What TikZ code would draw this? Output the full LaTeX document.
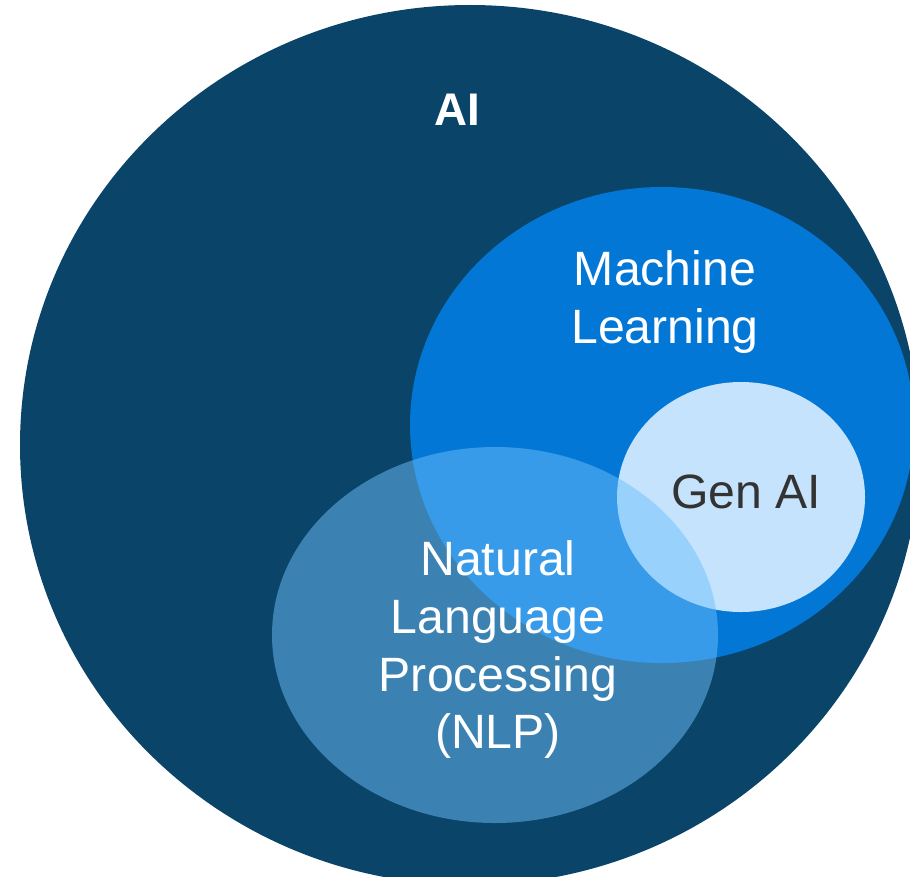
\documentclass[tikz,border=0pt]{standalone}
\usepackage{fontspec}
\setmainfont{Liberation Sans}
\definecolor{ainavy}{RGB}{10,68,105}
\definecolor{mlblue}{RGB}{2,119,214}
\definecolor{genpale}{RGB}{197,227,252}
\definecolor{nlpsky}{RGB}{108,192,253}
\definecolor{gentext}{RGB}{51,51,51}
\tikzset{lbl/.style={inner sep=0pt,align=center,font=\fontsize{13.7}{16.4}\selectfont}}

\begin{document}
\begin{tikzpicture}[x=.01cm,y=-.01cm] %nested sets, 1 unit = 1px
         \useasboundingbox (0,0) rectangle (910,876);
         \clip (0,0) rectangle (910,876);
         \fill[ainavy](470,445) ellipse (450 and 440);
         \fill[mlblue](662,425) ellipse (252 and 238);
         \fill[genpale](741,497) ellipse (124 and 115);
         \fill[nlpsky,fill opacity=0.5](495,635) ellipse (223 and 188);
         \node[lbl,white,font=\fontsize{13}{16}\selectfont\bfseries] (ai) at (457,110) {AI};
         \node[lbl,white] (ml) at (665,302) {Machine\\Learning};
         \node[lbl,gentext] (gen) at (746,492) {Gen AI};
         \node[lbl,white] (nlp) at (498,650) {Natural\\Language\\Processing\\(NLP)};
    \end{tikzpicture}
\end{document}
